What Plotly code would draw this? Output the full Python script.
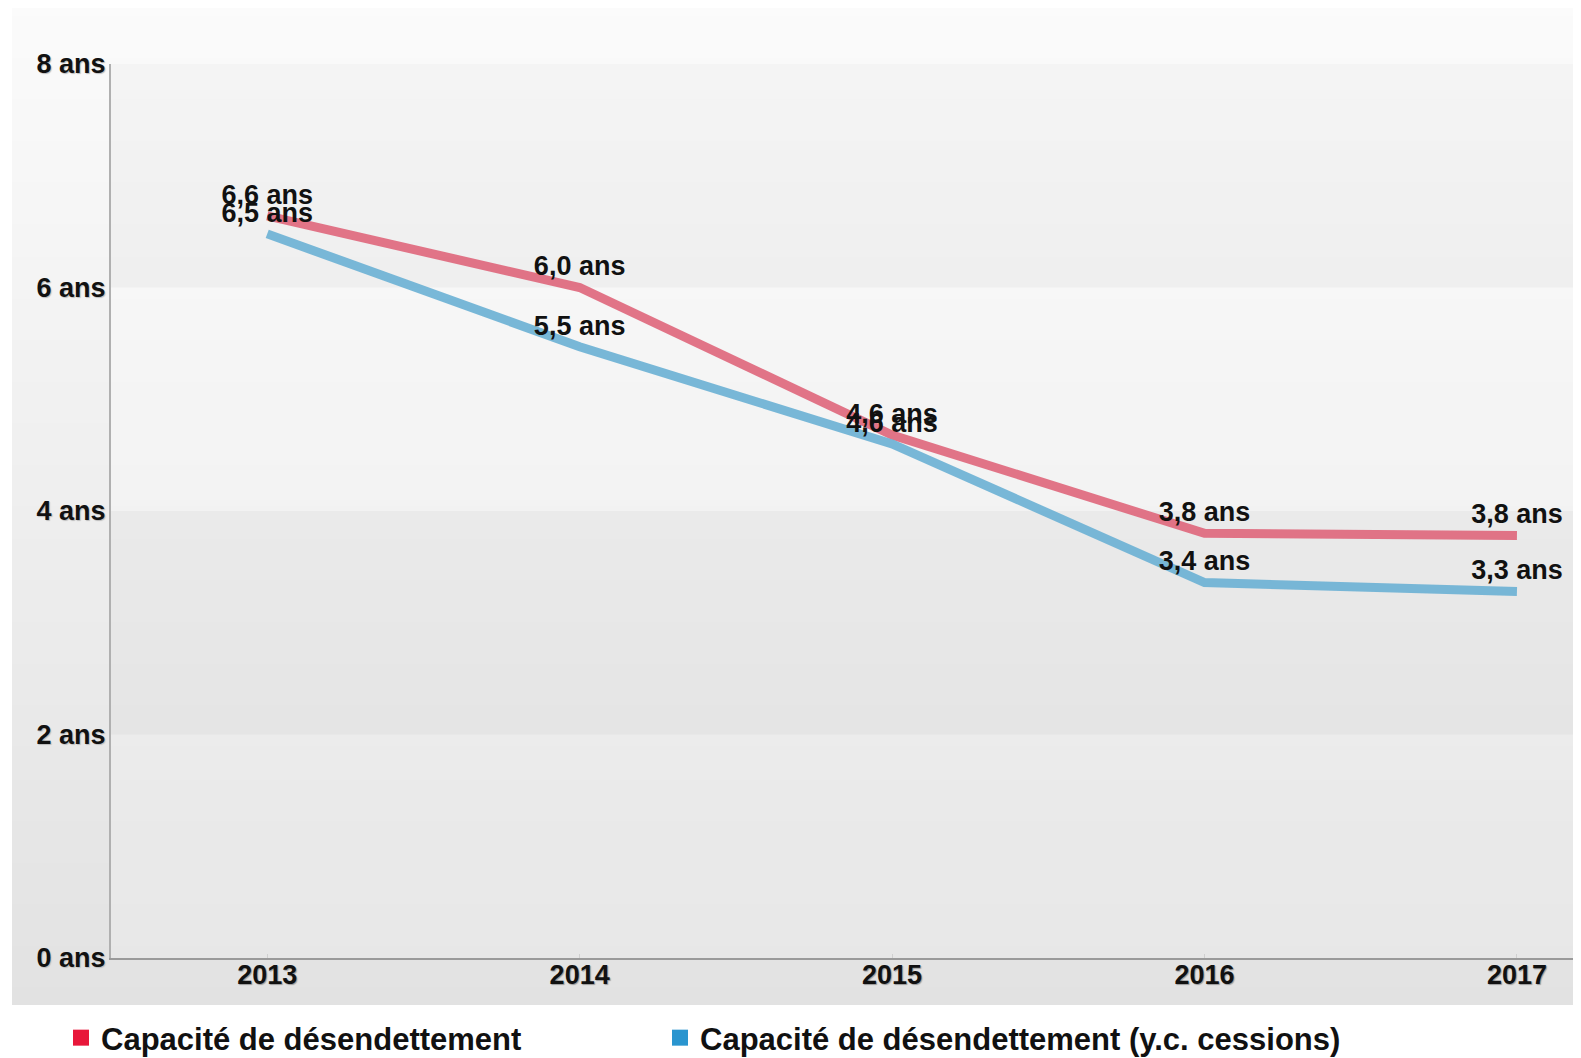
import plotly.graph_objects as go

# ---------------- data ----------------
years = [2013, 2014, 2015, 2016, 2017]
capacite = [6.64, 6.0, 4.68, 3.8, 3.78]
capacite_labels = ["6,6 ans", "6,0 ans", "4,6 ans", "3,8 ans", "3,8 ans"]
capacite_cessions = [6.48, 5.47, 4.6, 3.36, 3.28]
capacite_cessions_labels = ["6,5 ans", "5,5 ans", "4,6 ans", "3,4 ans", "3,3 ans"]
y_tickvals = [0, 2, 4, 6, 8]
y_ticktext = ["0 ans", "2 ans", "4 ans", "6 ans", "8 ans"]
series_names = ["Capacité de désendettement", "Capacité de désendettement (y.c. cessions)"]

# ---------------- geometry (page has an 8px body margin) ----------------
OFF = 8
W, H = 1581 - OFF, 1058
plot_left, plot_right = 111 - OFF, 1581 - OFF
plot_top, plot_bottom = 63.5 - OFF, 958.5 - OFF
ph = plot_bottom - plot_top
pw = plot_right - plot_left

def py(Y):
    return (plot_bottom - Y) / ph

def px(X):
    return (X - plot_left) / pw

FONT = "Liberation Sans, Arial, sans-serif"

shapes = []
# background gradient (grey panel)
top_c, bot_c = 251, 226
n = 120
y0p, y1p = 0, 1005 - OFF
for i in range(n):
    a = y0p + (y1p - y0p) * i / n
    b = y0p + (y1p - y0p) * (i + 1) / n
    t = ((a + b) / 2 + OFF) / (y1p + OFF)
    c = round(top_c + (bot_c - top_c) * t)
    shapes.append(dict(type="rect", xref="paper", yref="paper",
                       x0=px(12 - OFF), x1=1.0, y0=py(b) - 0.0005, y1=py(a) + 0.0005,
                       fillcolor=f"rgb({c},{c},{c})", line=dict(width=0), layer="below"))
# subtle alternating bands in plot area
for lo, hi, col in [(6, 8, "rgba(0,0,0,0.02)"), (4, 6, "rgba(255,255,255,0.25)"),
                    (2, 4, "rgba(0,0,0,0.015)"), (0, 2, "rgba(255,255,255,0.15)")]:
    shapes.append(dict(type="rect", xref="paper", yref="y", x0=0, x1=1, y0=lo, y1=hi,
                       fillcolor=col, line=dict(width=0), layer="below"))

fig = go.Figure()

red_line = "rgba(222,98,120,0.88)"
blue_line = "rgba(106,176,212,0.9)"

for vals, labels, col, name in [(capacite, capacite_labels, red_line, series_names[0]),
                                (capacite_cessions, capacite_cessions_labels, blue_line, series_names[1])]:
    fig.add_trace(go.Scatter(
        x=years, y=vals, mode="lines+markers+text", text=labels,
        textposition="top center", line=dict(color=col, width=9),
        marker=dict(size=7, opacity=0, color=col),
        textfont=dict(family=FONT, size=27, color="#111", weight="bold"),
        showlegend=False, cliponaxis=False, name=name, hoverinfo="x+y"))

# legend entries (square swatches)
fig.add_trace(go.Scatter(x=[None], y=[None], mode="markers", name=series_names[0],
                         legend="legend",
                         marker=dict(symbol="square", size=17, color="#e8173a")))
fig.add_trace(go.Scatter(x=[None], y=[None], mode="markers", name=series_names[1],
                         legend="legend2",
                         marker=dict(symbol="square", size=17, color="#2a95cf")))

legend_font = dict(family=FONT, size=31, color="#111", weight="bold")
leg_y = py(1038.6 - OFF)
fig.update_layout(
    width=W, height=H,
    margin=dict(l=plot_left, r=W - plot_right, t=plot_top, b=H - plot_bottom),
    paper_bgcolor="white", plot_bgcolor="rgba(0,0,0,0)",
    shapes=shapes,
    showlegend=True,
    legend=dict(orientation="h", x=px(53), xanchor="left", y=leg_y, yanchor="middle",
                font=legend_font, bgcolor="rgba(0,0,0,0)", itemsizing="trace"),
    legend2=dict(orientation="h", x=px(652), xanchor="left", y=leg_y, yanchor="middle",
                 font=legend_font, bgcolor="rgba(0,0,0,0)", itemsizing="trace"),
    xaxis=dict(range=[2012.5, 2017.205], tickvals=years, ticktext=[str(y) for y in years],
               showgrid=False, zeroline=False, showline=True, linecolor="#9a9a9a", linewidth=2,
               ticks="inside", ticklen=4, tickcolor="#d0d0d0",
               ticklabelstandoff=-8,
               tickfont=dict(family=FONT, size=27, color="#111", weight="bold",
                             shadow="1px 1px 1px #999")),
    yaxis=dict(range=[0, 8], tickvals=y_tickvals, ticktext=y_ticktext,
               showgrid=False, zeroline=False, showline=True, linecolor="#b0b0b0", linewidth=2,
               ticklabelstandoff=-2,
               tickfont=dict(family=FONT, size=27, color="#111", weight="bold",
                             shadow="1px 1px 1px #bbb")),
)

fig.write_html("out.html")
